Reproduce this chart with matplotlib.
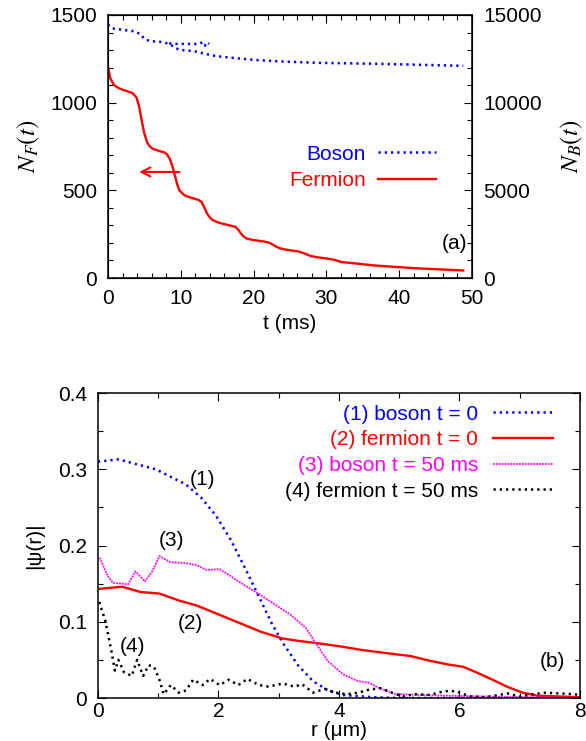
import matplotlib
matplotlib.use("Agg")
import matplotlib.pyplot as plt
from matplotlib.ticker import MultipleLocator
from matplotlib.lines import Line2D

plt.rcParams['font.family'] = ['Liberation Sans', 'DejaVu Sans']
plt.rcParams['mathtext.fontset'] = 'stix'

# ---------------- panel (a) data ----------------
t_fermion = [0, 0.3, 0.83, 1.5, 2.0, 3.35, 3.9, 4.27, 4.6, 4.96, 5.4, 5.8, 6.2, 7.0, 7.7,
             8.1, 8.5, 8.9, 9.25, 9.5, 9.8, 10.2, 10.5, 11.2, 11.8, 12.4, 12.85, 13.2,
             13.6, 14.0, 14.4, 15.2, 15.9, 16.8, 17.5, 17.9, 18.25, 18.6, 19.0, 19.8,
             20.6, 21.4, 22.1, 22.6, 23.1, 23.6, 24.2, 25.2, 26.2, 27.0, 27.8, 28.8,
             29.8, 30.5, 31.1, 31.6, 32.1, 33.3, 34.5, 36.5, 38.6, 41.7, 44.7, 48.8]
n_fermion = [1205, 1140, 1100, 1082, 1074, 1055, 1030, 979, 905, 829, 771, 748, 736,
             725, 717, 705, 679, 630, 575, 535, 500, 484, 472, 461, 453, 446, 434, 405,
             368, 345, 330, 316, 308, 299, 292, 275, 255, 238, 226, 218, 213, 208, 202,
             192, 179, 170, 164, 157, 151, 140, 126, 118, 113, 108, 104, 97, 91, 86,
             81, 72, 66, 57, 51, 43]

t_boson = [0, 0.5, 2.06, 3.6, 4.4, 5.14, 6.17, 7.71, 8.74, 9.77, 11.8, 13.4, 14.9, 17,
           20, 23.7, 28.8, 36.5, 48.8]
n_boson = [14450, 14240, 14150, 14070, 13920, 13580, 13500, 13450, 13260, 13010, 12940,
           12780, 12650, 12560, 12440, 12350, 12270, 12220, 12100]

t_boson_b = [8.4, 9.5, 11, 12.5, 13, 13.3, 13.6, 13.9]
n_boson_b = [13380, 13350, 13350, 13350, 13450, 13250, 13450, 13350]

# ---------------- panel (b) data ----------------
r1 = [0, 0.34, 0.96, 1.46, 1.71, 1.96, 2.2, 2.45, 2.64, 2.89, 3.07, 3.32, 3.57, 3.82,
      4.07, 4.57, 5.0, 6.0, 8.0]
psi1 = [0.310, 0.313, 0.300, 0.280, 0.263, 0.239, 0.208, 0.169, 0.138, 0.097, 0.072,
        0.043, 0.022, 0.010, 0.004, 0.001, 0.0, 0.0, 0.0]

r2 = [0, 0.4, 0.71, 1.02, 1.34, 1.65, 1.96, 2.33, 2.7, 3.07, 3.32, 3.63, 4.0, 4.38,
      4.88, 5.19, 5.5, 5.81, 6.06, 6.3, 6.55, 6.8, 7.05, 7.3, 7.67, 8.0]
psi2 = [0.143, 0.146, 0.139, 0.137, 0.128, 0.121, 0.111, 0.099, 0.087, 0.078, 0.075,
        0.072, 0.068, 0.063, 0.058, 0.055, 0.049, 0.044, 0.041, 0.033, 0.024, 0.0145,
        0.007, 0.003, 0.002, 0.001]

r3 = [0.03, 0.16, 0.25, 0.4, 0.5, 0.62, 0.78, 0.9, 1.02, 1.21, 1.46, 1.65, 1.8, 2.02,
      2.2, 2.45, 2.7, 2.95, 3.2, 3.45, 3.63, 3.82, 4.07, 4.32, 4.5, 4.69, 4.94, 5.8, 8.0]
psi3 = [0.184, 0.160, 0.151, 0.150, 0.149, 0.166, 0.153, 0.166, 0.186, 0.178, 0.177,
        0.174, 0.168, 0.169, 0.160, 0.147, 0.135, 0.122, 0.109, 0.092, 0.070, 0.048,
        0.031, 0.022, 0.020, 0.012, 0.005, 0.003, 0.0]

r4 = [0.02, 0.12, 0.22, 0.28, 0.34, 0.43, 0.56, 0.65, 0.75, 0.84, 0.93, 1.02, 1.09,
      1.21, 1.34, 1.46, 1.58, 1.74, 1.86, 2.02, 2.17, 2.33, 2.48, 2.67, 2.83, 3.07,
      3.26, 3.39, 3.57, 3.76, 3.94, 4.13, 4.32, 4.5, 4.69, 4.88, 5.06, 5.25, 5.5, 5.75,
      5.93, 6.18, 6.43, 6.8, 7.0, 7.2, 7.43, 7.67, 7.9, 8.0]
psi4 = [0.126, 0.102, 0.063, 0.036, 0.050, 0.034, 0.029, 0.050, 0.029, 0.043, 0.041,
        0.024, 0.005, 0.017, 0.007, 0.010, 0.024, 0.017, 0.025, 0.017, 0.024, 0.017,
        0.025, 0.017, 0.015, 0.019, 0.015, 0.018, 0.007, 0.012, 0.007, 0.005, 0.007,
        0.011, 0.013, 0.007, 0.002, 0.005, 0.004, 0.009, 0.009, 0.002, 0.001, 0.006,
        0.002, 0.005, 0.007, 0.006, 0.005, 0.004]

labels_a = ['Boson', 'Fermion']
labels_b = ['(1) boson t = 0', '(2) fermion t = 0', '(3) boson t = 50 ms',
            '(4) fermion t = 50 ms']

BLUE = '#0000ff'
RED = '#ff0000'
MAG = '#ff00ff'
BLK = '#000000'
FS = 15
DOT = (0, (0.9, 1.6))

fig = plt.figure(figsize=(5.86, 7.41), dpi=100)


def style_ticks(ax):
    ax.tick_params(which='both', direction='in', top=True, right=True,
                   labelsize=FS, width=0.8, pad=8)
    ax.tick_params(which='major', length=6)
    ax.tick_params(which='minor', length=3.5)
    for s in ax.spines.values():
        s.set_linewidth(1.1)


# ---------------- panel (a) ----------------
axa = fig.add_axes([0.1843, 0.6248, 0.6212, 0.355])
axa.plot(t_fermion, n_fermion, color=RED, lw=1.7)
axa.set_xlim(0, 50)
axa.set_ylim(0, 1500)
axa.xaxis.set_major_locator(MultipleLocator(10))
axa.xaxis.set_minor_locator(MultipleLocator(2))
axa.yaxis.set_major_locator(MultipleLocator(500))
axa.yaxis.set_minor_locator(MultipleLocator(100))
style_ticks(axa)
axa.tick_params(right=False, which='both')
axa.set_xlabel('t (ms)', fontsize=FS, labelpad=4)
axa.set_ylabel(r'$N_F(t)$', fontsize=18, labelpad=6)

axb2 = axa.twinx()
axb2.plot(t_boson, n_boson, color=BLUE, lw=1.8, ls=DOT)
axb2.plot(t_boson_b, n_boson_b, color=BLUE, lw=1.8, ls=DOT)
axb2.set_ylim(0, 15000)
axb2.yaxis.set_major_locator(MultipleLocator(5000))
axb2.yaxis.set_minor_locator(MultipleLocator(1000))
axb2.tick_params(which='both', direction='in', labelsize=FS, width=0.8, pad=8)
axb2.tick_params(which='major', length=6)
axb2.tick_params(which='minor', length=3.5)
axb2.set_ylabel(r'$N_B(t)$', fontsize=18, labelpad=12)

axa.annotate('', xy=(3.9, 605), xytext=(10.2, 605),
             arrowprops=dict(arrowstyle='->', color=RED, lw=1.5,
                             mutation_scale=16))
axa.text(47.6, 195, '(a)', fontsize=FS, ha='center', va='center')

h_a = [Line2D([], [], color=BLUE, lw=1.8, ls=DOT),
       Line2D([], [], color=RED, lw=1.7)]
leg = axa.legend(h_a, labels_a, loc='center right',
                 bbox_to_anchor=(0.9, 0.42), frameon=False, markerfirst=False,
                 fontsize=FS, handlelength=2.75, handletextpad=0.6,
                 labelspacing=0.38, borderpad=0, borderaxespad=0)
for txt, c in zip(leg.get_texts(), [BLUE, RED]):
    txt.set_color(c)

# ---------------- panel (b) ----------------
axb = fig.add_axes([0.1672, 0.058, 0.8225, 0.4116])
l1, = axb.plot(r1, psi1, color=BLUE, lw=1.8, ls=DOT)
l2, = axb.plot(r2, psi2, color=RED, lw=1.7)
l3, = axb.plot(r3, psi3, color=MAG, lw=1.3, ls=(0, (1, 0.6)))
l4, = axb.plot(r4, psi4, color=BLK, lw=1.8, ls=DOT)
axb.set_xlim(0, 8)
axb.set_ylim(0, 0.4)
axb.xaxis.set_major_locator(MultipleLocator(2))
axb.xaxis.set_minor_locator(MultipleLocator(1))
axb.yaxis.set_major_locator(MultipleLocator(0.1))
axb.yaxis.set_minor_locator(MultipleLocator(0.05))
axb.yaxis.set_major_formatter(plt.FuncFormatter(lambda v, p: '0' if abs(v) < 1e-9 else f'{v:.1f}'))
style_ticks(axb)
axb.tick_params(axis='x', which='both', pad=3)
axb.set_xlabel('r (\u03bcm)', fontsize=FS, labelpad=0)
axb.set_ylabel('|\u03c8(r)|', fontsize=FS, labelpad=10)

axb.text(1.74, 0.287, '(1)', fontsize=FS, ha='center', va='center')
axb.text(1.53, 0.098, '(2)', fontsize=FS, ha='center', va='center')
axb.text(1.22, 0.207, '(3)', fontsize=FS, ha='center', va='center')
axb.text(0.57, 0.068, '(4)', fontsize=FS, ha='center', va='center')
axb.text(7.55, 0.048, '(b)', fontsize=FS, ha='center', va='center')

legb = axb.legend([l1, l2, l3, l4], labels_b, loc='center right',
                  bbox_to_anchor=(0.944, 0.805), frameon=False, markerfirst=False,
                  fontsize=FS, handlelength=2.9, handletextpad=0.7,
                  labelspacing=0.32, borderpad=0, borderaxespad=0)
for txt, c in zip(legb.get_texts(), [BLUE, RED, MAG, BLK]):
    txt.set_color(c)

fig.savefig('out.png', dpi=100)
